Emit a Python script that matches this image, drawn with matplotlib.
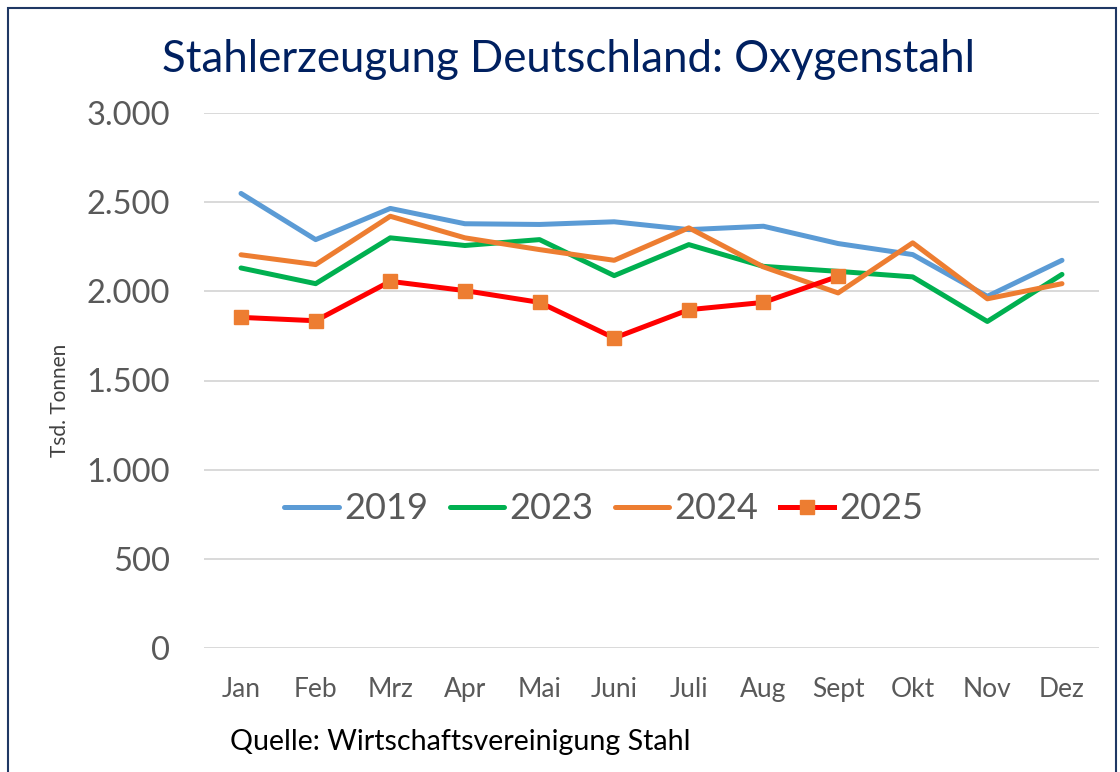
import matplotlib
matplotlib.use("Agg")
import matplotlib.pyplot as plt
from matplotlib.patches import Rectangle
from matplotlib.ticker import FuncFormatter

plt.rcParams['font.family'] = ['Lato', 'DejaVu Sans']

months = ["Jan", "Feb", "Mrz", "Apr", "Mai", "Juni", "Juli", "Aug", "Sept", "Okt", "Nov", "Dez"]
v2019 = [2549, 2290, 2465, 2379, 2375, 2390, 2346, 2365, 2268, 2206, 1972, 2174]
v2023 = [2131, 2043, 2300, 2257, 2290, 2088, 2262, 2140, 2112, 2081, 1831, 2095]
v2024 = [2205, 2150, 2421, 2300, 2234, 2174, 2356, 2137, 1991, 2272, 1958, 2043]
v2025 = [1854, 1835, 2056, 2004, 1938, 1738, 1897, 1938, 2084]
yticks = [0, 500, 1000, 1500, 2000, 2500, 3000]

W, H = 1120, 772
fig = plt.figure(figsize=(W / 100, H / 100), dpi=100)
ax = fig.add_axes([203.7 / W, (H - 648) / H, (1099.3 - 203.7) / W, (648 - 113) / H])

x = list(range(len(months)))
lw = 3.6
ax.plot(x, v2019, color='#5B9BD5', lw=lw, label='2019', solid_capstyle='round', zorder=3)
ax.plot(x, v2023, color='#00B050', lw=lw, label='2023', solid_capstyle='round', zorder=3)
ax.plot(x, v2024, color='#ED7D31', lw=lw, label='2024', solid_capstyle='round', zorder=3)
ax.plot(x[:len(v2025)], v2025, color='#FF0000', lw=lw, label='2025', marker='s',
        markersize=10, markerfacecolor='#ED7D31', markeredgecolor='#ED7D31', zorder=4)

ax.set_xlim(-0.5, len(months) - 0.5)
ax.set_ylim(0, 3000)
ax.set_yticks(yticks)
ax.yaxis.set_major_formatter(FuncFormatter(lambda v, p: f"{int(v):,}".replace(",", ".")))
ax.set_xticks(x)
ax.set_xticklabels(months)
ax.grid(axis='y', color='#D9D9D9', lw=1.4, zorder=0)
ax.set_axisbelow(True)
for s in ax.spines.values():
    s.set_visible(False)
ax.tick_params(axis='y', length=0, pad=24, labelsize=23.5, labelcolor='#595959')
ax.tick_params(axis='x', length=0, pad=21, labelsize=19, labelcolor='#595959')

leg = ax.legend(loc='center', bbox_to_anchor=(0.447, 0.26), ncol=4, frameon=False,
                fontsize=26, handlelength=1.5, handletextpad=0.15, columnspacing=0.6,
                labelcolor='#595959')

fig.text(569 / W, 1 - 60 / H, "Stahlerzeugung Deutschland: Oxygenstahl", ha='center', va='center',
         fontsize=31.5, color='#002060')
fig.text(60 / W, 1 - 400 / H, "Tsd. Tonnen", rotation=90, ha='center', va='center',
         fontsize=15, color='#404040')
fig.text(230 / W, 1 - 742 / H, "Quelle: Wirtschaftsvereinigung Stahl", ha='left', va='center',
         fontsize=20.6, color='black')

fig.patches.append(Rectangle((8 / W, -0.05), (1116 - 8) / W, 1.05 - 8 / H, transform=fig.transFigure,
                             fill=False, edgecolor='#1F3864', lw=1.5))

fig.savefig("out.png", dpi=100)
